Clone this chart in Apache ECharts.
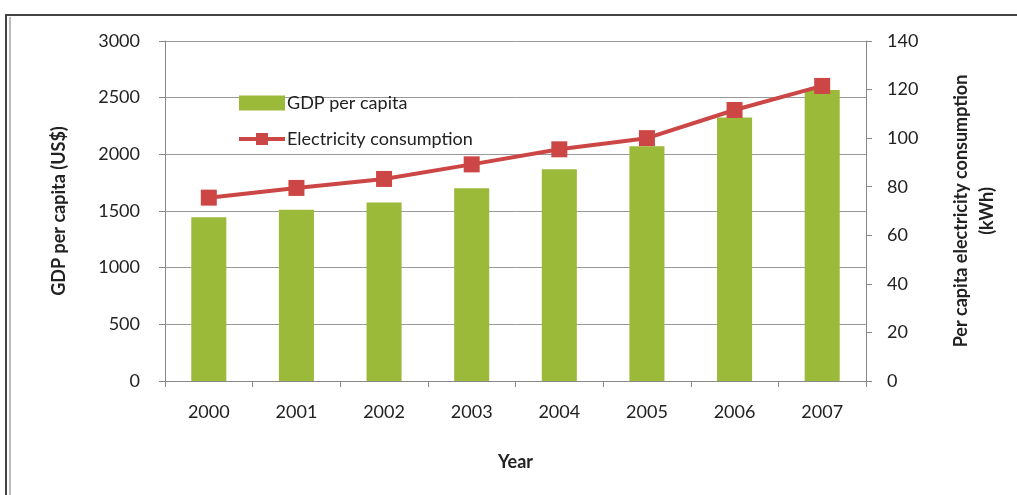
<!DOCTYPE html>
<html><head><meta charset="utf-8">
<script src="https://cdn.jsdelivr.net/npm/echarts@6/dist/echarts.min.js"></script>
<style>html,body{margin:0;padding:0;background:#fff}#c{width:1017px;height:495px}</style>
</head><body><div id="c"></div>
<script>
var years = ['2000','2001','2002','2003','2004','2005','2006','2007'];
var gdp = [1445, 1510, 1575, 1700, 1868, 2072, 2325, 2568];
var elec = [75.5, 79.5, 83.2, 89.2, 95.4, 100, 111.6, 121.5];

var FONT = 'Lato';
var chart = echarts.init(document.getElementById('c'));
chart.setOption({
  animation: false,
  backgroundColor: '#fff',
  textStyle: {fontFamily: FONT},
  graphic: [
    {type: 'polyline', shape: {points: [[1017, 15], [6, 15], [6, 495]]}, style: {stroke: '#444', lineWidth: 2, fill: null}},
    {type: 'line', shape: {x1: 10, y1: 17, x2: 10, y2: 495}, style: {stroke: '#777', lineWidth: 1}}
  ],
  grid: {left: 165, right: 151, top: 41, bottom: 114},
  legend: {
    orient: 'vertical', left: 232, top: 89, itemWidth: 46, itemHeight: 15, itemGap: 18,
    textStyle: {fontSize: 18, color: '#222', fontFamily: FONT, padding: [0, 0, 0, -3]},
    data: [
      {name: 'GDP per capita', icon: 'rect'},
      {name: 'Electricity consumption', lineStyle: {width: 4}}
    ]
  },
  xAxis: {
    type: 'category', data: years, boundaryGap: true,
    name: 'Year', nameLocation: 'middle', nameGap: 72,
    nameTextStyle: {fontSize: 18, fontWeight: 'bold', color: '#222'},
    axisLine: {lineStyle: {color: '#888'}},
    axisTick: {show: true, length: 6, lineStyle: {color: '#888'}},
    axisLabel: {fontSize: 18, color: '#222', margin: 22}
  },
  yAxis: [
    {
      type: 'value', min: 0, max: 3000, interval: 500,
      name: 'GDP per capita (US$)', nameLocation: 'middle', nameGap: 97, nameRotate: 90,
      nameTextStyle: {fontSize: 18, fontWeight: 'bold', color: '#222'},
      axisLine: {show: true, lineStyle: {color: '#888'}},
      axisTick: {show: true, length: 6, lineStyle: {color: '#888'}},
      axisLabel: {fontSize: 18, color: '#222', margin: 25, formatter: function (v) { return String(v); }},
      splitLine: {lineStyle: {color: '#999'}}
    },
    {
      type: 'value', min: 0, max: 140, interval: 20,
      name: 'Per capita electricity consumption\n(kWh)', nameLocation: 'middle', nameGap: 82, nameRotate: 90,
      nameTextStyle: {fontSize: 18, fontWeight: 'bold', color: '#222', lineHeight: 26},
      axisLine: {show: true, lineStyle: {color: '#888'}},
      axisTick: {show: true, length: 6, lineStyle: {color: '#888'}},
      axisLabel: {fontSize: 18, color: '#222', margin: 21},
      splitLine: {show: false}
    }
  ],
  series: [
    {
      name: 'GDP per capita', type: 'bar', data: gdp, yAxisIndex: 0,
      barWidth: '40%', itemStyle: {color: '#9cba3a'}
    },
    {
      name: 'Electricity consumption', type: 'line', data: elec, yAxisIndex: 1,
      symbol: 'rect', symbolSize: 16,
      lineStyle: {color: '#cc4646', width: 4},
      itemStyle: {color: '#cc4646'}
    }
  ]
});
</script></body></html>
